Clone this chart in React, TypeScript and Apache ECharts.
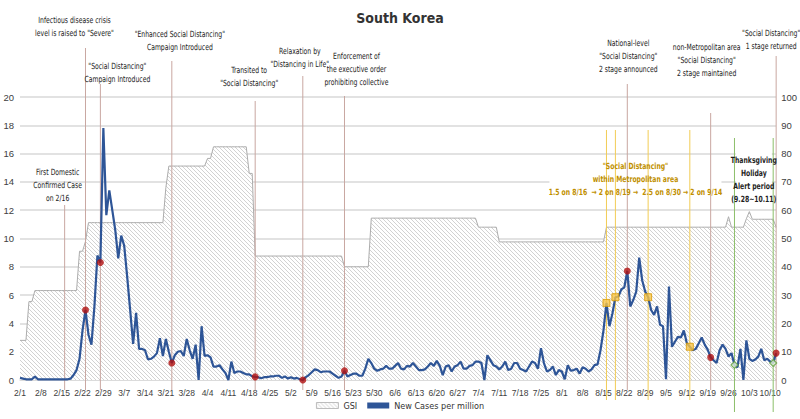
import React, { useEffect, useRef } from "react";
import * as echarts from "echarts";

// ---- categories (2020-02-01 .. 2020-10-12) ----
const monthNumbers = [2, 3, 4, 5, 6, 7, 8, 9, 10];
const monthDayCounts = [29, 31, 30, 31, 30, 31, 31, 30, 12];
const dates: string[] = [];
monthNumbers.forEach((m, i) => {
  for (let d = 1; d <= monthDayCounts[i]; d++) dates.push(`${m}/${d}`);
});

// ---- New cases per million (left axis) ----
const casesFeb = [0.15, 0.1, 0.05, 0.05, 0.05, 0.25, 0.05, 0.05, 0.05, 0.05, 0.05, 0.05, 0.05, 0.05, 0.05, 0.05, 0.05, 0.1, 0.35, 0.7, 1.5, 3.5, 4.95, 3.2, 2.5, 5.2, 8.8, 8.3, 17.8];
const casesMar = [11.65, 13.4, 12.0, 10.6, 8.6, 10.2, 9.5, 7.3, 4.95, 2.55, 4.75, 2.2, 2.2, 2.1, 1.45, 1.5, 1.65, 1.9, 2.95, 1.7, 2.9, 2.0, 1.2, 1.75, 2.0, 2.05, 1.7, 2.9, 2.1, 1.5, 2.5];
const casesApr = [0, 3.8, 1.7, 1.75, 1.6, 0.95, 0.95, 1.05, 0.75, 0.5, 0, 1.3, 0.5, 0.6, 0.6, 0.5, 0.4, 0.4, 0.25, 0.22, 0.2, 0.12, 0.2, 0.2, 0.25, 0.25, 0.3, 0.3, 0.15, 0.25];
const casesMay = [0.1, 0.2, 0.1, 0.15, 0.05, 0.0, 0.2, 0.35, 0.55, 0.75, 0.7, 0.55, 0.6, 0.6, 0.6, 0.45, 0.3, 0.15, 0.25, 0.65, 0.25, 0.35, 0.45, 0.45, 0.3, 0.3, 0.8, 1.5, 1.2, 0.8, 0.65];
const casesJun = [0.75, 0.8, 1.0, 0.8, 0.8, 1.0, 1.2, 0.8, 0.75, 1.0, 0.95, 1.2, 0.95, 0.7, 0.7, 0.75, 0.95, 1.2, 1.0, 1.35, 1.0, 0.35, 0.95, 1.05, 0.6, 0.95, 1.05, 1.3, 0.8, 0.8];
const casesJul = [1.0, 1.05, 1.3, 1.3, 1.2, 0, 1.75, 1.4, 1.05, 0.95, 0.75, 0.95, 1.3, 0.7, 0.8, 1.2, 1.2, 0.8, 0.7, 0.6, 0.95, 1.3, 1.2, 0.8, 2.25, 1.2, 0.6, 0.7, 0.95, 0.35, 0.7];
const casesAug = [0.6, 0.05, 1.05, 0.65, 0.7, 0.8, 0.45, 0.9, 0.8, 0.6, 0.75, 1.05, 1.1, 2.1, 3.5, 5.45, 3.8, 4.7, 5.85, 5.9, 6.4, 6.55, 7.7, 5.2, 5.65, 6.25, 8.65, 7.05, 6.25, 5.85, 4.95];
const casesSep = [4.6, 5.2, 3.9, 3.8, 0.05, 6.6, 2.35, 2.7, 3.05, 3.0, 3.5, 2.6, 2.35, 2.1, 2.2, 2.6, 3.0, 2.5, 2.15, 1.6, 1.4, 1.2, 2.1, 2.5, 2.2, 1.65, 1.9, 1.06, 0.9, 2.2];
const casesOct = [0, 2.8, 1.5, 1.35, 1.45, 1.65, 2.2, 1.4, 1.5, 1.3, 1.2, 1.9];
const cases = [...casesFeb, ...casesMar, ...casesApr, ...casesMay, ...casesJun, ...casesJul, ...casesAug, ...casesSep, ...casesOct];

// ---- GSI (right axis) ----
const gsiFeb = [14, 14, 14, 27.7, 27.7, 31.6, 31.6, 31.6, 31.6, 31.6, 31.6, 31.6, 31.6, 31.6, 31.6, 31.6, 31.6, 31.6, 31.6, 31.6, 45.5, 45.5, 49, 55.6, 55.6, 55.6, 55.6, 55.6, 55.6];
const gsiMar = [55.6, 55.6, 55.6, 55.6, 55.6, 55.6, 55.6, 55.6, 55.6, 55.6, 55.6, 55.6, 55.6, 55.6, 55.6, 55.6, 55.6, 55.6, 55.6, 55.6, 68, 75.6, 75.6, 75.6, 75.6, 75.6, 75.6, 75.6, 75.6, 75.6, 75.6];
const gsiApr = [75.6, 75.6, 75.6, 78.3, 78.3, 82.4, 82.4, 82.4, 82.4, 82.4, 82.4, 82.4, 82.4, 82.4, 82.4, 82.4, 82.4, 73, 73, 43.8, 43.8, 43.8, 43.8, 43.8, 43.8, 43.8, 43.8, 43.8, 43.8, 43.8];
const gsiMay = [43.8, 43.8, 43.8, 43.8, 43.8, 43.8, 43.8, 43.8, 43.8, 43.8, 43.8, 43.8, 43.8, 43.8, 43.8, 43.8, 43.8, 43.8, 43.8, 40, 40, 40, 40, 40, 40, 40, 40, 40, 57.2, 57.2, 57.2];
const gsiJun = [57.2, 57.2, 57.2, 57.2, 57.2, 57.2, 57.2, 57.2, 57.2, 57.2, 57.2, 57.2, 57.2, 57.2, 57.2, 57.2, 57.2, 57.2, 57.2, 57.2, 57.2, 57.2, 57.2, 57.2, 57.2, 57.2, 57.2, 57.2, 57.2, 57.2];
const gsiJul = [57.2, 57.2, 57.2, 54, 54, 54, 54, 54, 54, 54, 48.8, 48.8, 48.8, 48.8, 48.8, 48.8, 48.8, 48.8, 48.8, 48.8, 48.8, 48.8, 48.8, 48.8, 48.8, 48.8, 48.8, 48.8, 48.8, 48.8, 48.8];
const gsiAug = [48.8, 48.8, 48.8, 48.8, 48.8, 48.8, 48.8, 48.8, 48.8, 48.8, 48.8, 48.8, 48.8, 48.8, 48.8, 54, 54, 54, 54, 54, 54, 54, 54, 54, 54, 54, 54, 54, 54, 54, 54];
const gsiSep = [54, 54, 54, 54, 54, 54, 54, 54, 54, 54, 54, 54, 54, 54, 54, 54, 54, 54, 54, 54, 54, 54, 54, 54, 54, 57.7, 54, 54, 54, 54];
const gsiOct = [54, 57, 59.5, 56.8, 56.8, 56.8, 56.8, 56.8, 56.8, 56.8, 56.8, 54];
const gsi = [...gsiFeb, ...gsiMar, ...gsiApr, ...gsiMay, ...gsiJun, ...gsiJul, ...gsiAug, ...gsiSep, ...gsiOct];

// ---- highlighted days (indices into dates) ----
const redDays = [22, 27, 51, 79, 95, 109, 204, 232, 254];
const yellowDays = [197, 200, 211, 225];
const greenDays = [240, 253];

// ---- annotations (layout config) ----
const BROWN = "#c9a7a1";
const YELLOW = "#f2cc55";
const GREEN = "#8cbf6a";
const brownEvents = [
  { day: 15, top: 205, lines: ["First Domestic", "Confirmed Case", "on 2/16"], dx: -7, ty: 166 },
  { day: 22, top: 48, lines: ["Infectious disease crisis", 'level is raised to "Severe"'], dx: -11, ty: 14 },
  { day: 27, top: 84, lines: ['"Social Distancing"', "Campaign Introduced"], dx: 17, ty: 60 },
  { day: 51, top: 61, lines: ['"Enhanced Social Distancing"', "Campaign Introduced"], dx: 8, ty: 28 },
  { day: 79, top: 101, lines: ["Transited to", '"Social Distancing"'], dx: -6, ty: 64 },
  { day: 95, top: 76, lines: ["Relaxation by", '"Distancing in Life"'], dx: -3, ty: 45 },
  { day: 109, top: 96, lines: ["Enforcement of", "the executive order", "prohibiting collective"], dx: 12, ty: 50 },
  { day: 204, top: 84, lines: ["National-level", '"Social Distancing"', "2 stage announced"], dx: 1, ty: 37 },
  { day: 232, top: 113, lines: ["non-Metropolitan area", '"Social Distancing"', "2 stage maintained"], dx: -4, ty: 41 },
  { day: 254, top: 56, lines: ['"Social Distancing"', "1 stage returned"], dx: -5, ty: 27 },
];

function makeHatch(): HTMLCanvasElement {
  const c = document.createElement("canvas");
  c.width = 4;
  c.height = 4;
  const ctx = c.getContext("2d")!;
  ctx.fillStyle = "#ffffff";
  ctx.fillRect(0, 0, 4, 4);
  ctx.fillStyle = "#d2d2d2";
  for (let i = 0; i < 4; i++) ctx.fillRect(i, i, 1, 1);
  return c;
}

const FONT = "'Liberation Sans', Arial, sans-serif";
const NOTE_FONT = "'DejaVu Sans Condensed', 'Liberation Sans', sans-serif";

export default function App() {
  const ref = useRef<HTMLDivElement>(null);
  useEffect(() => {
    if (!ref.current) return;
    const chart = echarts.init(ref.current, undefined, { renderer: "svg" });
    const hatch = makeHatch();
    const pattern: any = { image: hatch, repeat: "repeat", imageWidth: 4, imageHeight: 4 };
    chart.setOption({
      animation: false,
      backgroundColor: "#ffffff",
      textStyle: { fontFamily: FONT },
      title: {
        text: "South Korea",
        left: "center",
        top: 6,
        textStyle: { fontSize: 14, fontWeight: "bold", color: "#333", fontFamily: NOTE_FONT },
      },
      grid: { left: 20, right: 22, top: 97, bottom: 39 },
      legend: {
        bottom: 4,
        left: "center",
        itemWidth: 22,
        itemHeight: 6,
        itemGap: 10,
        textStyle: { fontSize: 9, color: "#333", fontFamily: NOTE_FONT },
        data: [
          { name: "GSI", icon: "rect", itemStyle: { color: pattern, borderColor: "#bdbdbd", borderWidth: 1 } },
          { name: "New Cases per million", icon: "rect", itemStyle: { color: "#2e5597" } },
        ],
      },
      xAxis: {
        type: "category",
        data: dates,
        boundaryGap: false,
        axisLine: { lineStyle: { color: "#d9d9d9", width: 1.5 } },
        axisTick: { show: false },
        axisLabel: { interval: 6, fontSize: 8.5, color: "#404040", margin: 8, fontFamily: FONT },
        splitLine: { show: false },
      },
      yAxis: [
        {
          type: "value",
          min: 0,
          max: 20,
          interval: 2,
          axisLine: { show: false },
          axisTick: { show: false },
          axisLabel: { fontSize: 9.5, color: "#404040", margin: 6, fontFamily: FONT },
          splitLine: { lineStyle: { color: "#d9d9d9", width: 1.5 } },
        },
        {
          type: "value",
          min: 0,
          max: 100,
          interval: 10,
          axisLine: { show: false },
          axisTick: { show: false },
          axisLabel: { fontSize: 9.5, color: "#404040", margin: 5, fontFamily: FONT },
          splitLine: { show: false },
        },
      ],
      series: [
        {
          name: "GSI",
          type: "line",
          yAxisIndex: 1,
          data: gsi,
          symbol: "none",
          lineStyle: { color: "#acacac", width: 1 },
          itemStyle: { color: "#acacac" },
          areaStyle: { color: pattern, opacity: 1 },
          z: 1,
        },
        {
          name: "New Cases per million",
          type: "line",
          yAxisIndex: 0,
          data: cases,
          symbol: "none",
          lineStyle: { color: "#2e5597", width: 2.2 },
          itemStyle: { color: "#2e5597" },
          z: 4,
        },
        {
          name: "red",
          type: "scatter",
          data: redDays.map((d) => [d, cases[d]]),
          symbol: "circle",
          symbolSize: 7,
          itemStyle: { color: "#b01010" },
          z: 6,
        },
        {
          name: "yellow",
          type: "scatter",
          data: yellowDays.map((d) => [d, cases[d]]),
          symbol: "rect",
          symbolSize: 7,
          itemStyle: { color: "#f7c448", borderColor: "#d99a00", borderWidth: 1 },
          z: 6,
        },
        {
          name: "green",
          type: "scatter",
          data: greenDays.map((d) => [d, cases[d]]),
          symbol: "diamond",
          symbolSize: 7,
          itemStyle: { color: "#e2efda", borderColor: "#5f9e3c", borderWidth: 1.2 },
          z: 6,
        },
      ],
    });

    const px = (d: number) => chart.convertToPixel({ xAxisIndex: 0 }, d) as number;
    const elements: any[] = [];
    const txt = (x: number, y: number, lines: string[], opts: any = {}) => ({
      type: "text",
      x,
      y,
      scaleX: 0.8,
      z: 20,
      style: {
        text: lines.join("\n"),
        fill: opts.fill || "#222",
        fontSize: opts.fontSize || 8.5,
        fontWeight: opts.fontWeight || "normal",
        fontFamily: NOTE_FONT,
        lineHeight: 13,
        align: "center",
        textAlign: "center",
        verticalAlign: "top",
        textVerticalAlign: "top",
      },
    });
    const vline = (x: number, y1: number, y2: number, color: string) => ({
      type: "line",
      z: 3,
      shape: { x1: x, y1, x2: x, y2 },
      style: { stroke: color, lineWidth: 1 },
    });

    const yx = px(yellowDays[0]) + 29;
    elements.push({ type: "rect", z: 1, shape: { x: yx - 86, y: 156, width: 172, height: 44 }, style: { fill: "#fff" } });
    const gx = (px(greenDays[0]) + px(greenDays[1])) / 2;
    elements.push({ type: "rect", z: 1, shape: { x: gx - 18, y: 150, width: 36, height: 58 }, style: { fill: "#fff" } });

    brownEvents.forEach((e) => {
      const x = px(e.day);
      elements.push(vline(x, e.top, 390, BROWN));
      elements.push(txt(x + e.dx, e.ty, e.lines));
    });
    yellowDays.forEach((d) => elements.push(vline(px(d), 130, 400, YELLOW)));
    greenDays.forEach((d) => elements.push(vline(px(d), 138, 412, GREEN)));

    elements.push(
      txt(yx, 160, ['"Social Distancing"', "within Metropolitan area", "1.5 on 8/16  \u2192 2 on 8/19 \u2192  2.5 on 8/30 \u2192 2 on 9/14"], {
        fill: "#bf8f00",
        fontWeight: "bold",
      })
    );
    elements.push(txt(gx, 154, ["Thanksgiving", "Holiday", "Alert period", "(9.28~10.11)"], { fill: "#1e1e1e", fontWeight: "bold" }));

    chart.setOption({ graphic: { elements } });

    return () => chart.dispose();
  }, []);

  return <div ref={ref} style={{ position: "fixed", left: 0, top: 0, width: 800, height: 419 }} />;
}
